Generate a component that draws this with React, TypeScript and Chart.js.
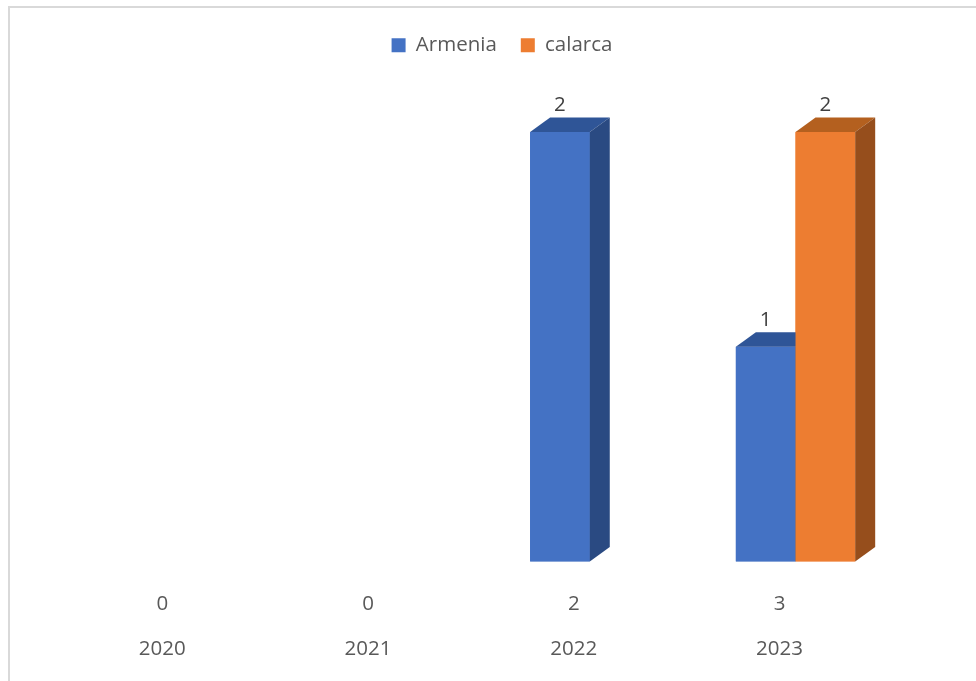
import React, { useEffect, useRef } from "react";
import { Chart, registerables } from "chart.js";

Chart.register(...registerables);

// ---- data ----
const years = ["2020", "2021", "2022", "2023"];
const totals = [0, 0, 2, 3];
const armenia: (number | null)[] = [null, null, 2, 1];
const calarca: (number | null)[] = [null, null, null, 2];
const seriesNames = ["Armenia", "calarca"];

// ---- style ----
const FRONT = ["#4472C4", "#ED7D31"];
const TOP = ["#2F5597", "#B4601F"];
const SIDE = ["#2A4A82", "#964E1C"];
const FONT = "'Open Sans', 'DejaVu Sans', sans-serif";

const bars3d = {
  id: "bars3d",
  afterDatasetsDraw(chart: any) {
    const ctx = chart.ctx as CanvasRenderingContext2D;
    const dx = 20;
    const dy = 14.5;
    const labels: { x: number; y: number; t: string }[] = [];
    chart.data.datasets.forEach((ds: any, di: number) => {
      const meta = chart.getDatasetMeta(di);
      meta.data.forEach((el: any, i: number) => {
        const v = ds.data[i];
        if (v == null) return;
        const { x, y, base, width } = el.getProps(["x", "y", "base", "width"], true);
        const x0 = x - width / 2;
        const x1 = x + width / 2;
        ctx.save();
        ctx.fillStyle = FRONT[di];
        ctx.fillRect(x0, y, width, base - y);
        ctx.fillStyle = TOP[di];
        ctx.beginPath();
        ctx.moveTo(x0, y);
        ctx.lineTo(x1, y);
        ctx.lineTo(x1 + dx, y - dy);
        ctx.lineTo(x0 + dx, y - dy);
        ctx.closePath();
        ctx.fill();
        ctx.fillStyle = SIDE[di];
        ctx.beginPath();
        ctx.moveTo(x1, y);
        ctx.lineTo(x1 + dx, y - dy);
        ctx.lineTo(x1 + dx, base - dy);
        ctx.lineTo(x1, base);
        ctx.closePath();
        ctx.fill();
        ctx.restore();
        labels.push({ x, y: y - 26.5, t: String(v) });
      });
    });
    ctx.save();
    ctx.fillStyle = "#404040";
    ctx.font = `20.5px ${FONT}`;
    ctx.textAlign = "center";
    ctx.textBaseline = "middle";
    labels.forEach((l) => ctx.fillText(l.t, l.x, l.y));
    ctx.restore();
  },
};

export default function App() {
  const ref = useRef<HTMLCanvasElement | null>(null);

  useEffect(() => {
    if (!ref.current) return;
    const chart = new Chart(ref.current, {
      type: "bar",
      data: {
        labels: years.map((y, i) => [String(totals[i]), y]),
        datasets: [
          {
            label: seriesNames[0],
            data: armenia,
            backgroundColor: FRONT[0],
            borderWidth: 0,
            yAxisID: "y",
          },
          {
            label: seriesNames[1],
            data: calarca,
            backgroundColor: FRONT[1],
            borderWidth: 0,
            yAxisID: "y",
          },
        ],
      },
      options: {
        responsive: false,
        animation: false,
        events: [],
        layout: { padding: { top: 3, left: 0, right: 2, bottom: 15.5 } },
        datasets: {
          bar: { categoryPercentage: 0.58, barPercentage: 1 },
        },
        plugins: {
          tooltip: { enabled: false },
          legend: {
            display: true,
            position: "top",
            labels: {
              boxWidth: 14,
              boxHeight: 14,
              padding: 24,
              color: "#595959",
              font: { family: FONT, size: 20.5 },
            },
          },
        },
        scales: {
          x: {
            offset: true,
            grid: { display: false, drawTicks: false },
            border: { display: false },
            ticks: {
              color: "#595959",
              padding: 20.5,
              labelOffset: -16,
              maxRotation: 0,
              autoSkip: false,
              font: { family: FONT, size: 20.5, lineHeight: "45px" },
            },
          },
          y: {
            position: "left",
            min: 0,
            max: 2.31,
            grid: { display: false, drawTicks: false },
            border: { display: false },
            ticks: { display: false },
            afterFit: (s: any) => {
              s.width = 65.4;
            },
          },
          y2: {
            position: "right",
            grid: { display: false, drawTicks: false },
            border: { display: false },
            ticks: { display: false },
            afterFit: (s: any) => {
              s.width = 95.6;
            },
          },
        },
      } as any,
      plugins: [bars3d],
    });
    return () => chart.destroy();
  }, []);

  return (
    <div
      style={{
        position: "absolute",
        left: 0,
        top: 0,
        width: 976,
        height: 681,
        overflow: "hidden",
        background: "#ffffff",
      }}
    >
      <div
        style={{
          position: "absolute",
          left: 8,
          top: 6,
          width: 1010,
          height: 720,
          border: "2px solid #d9d9d9",
          boxSizing: "border-box",
          background: "#ffffff",
        }}
      />
      <canvas
        ref={ref}
        width={986}
        height={700}
        style={{ position: "absolute", left: 10, top: 8, width: 986, height: 700 }}
      />
    </div>
  );
}
